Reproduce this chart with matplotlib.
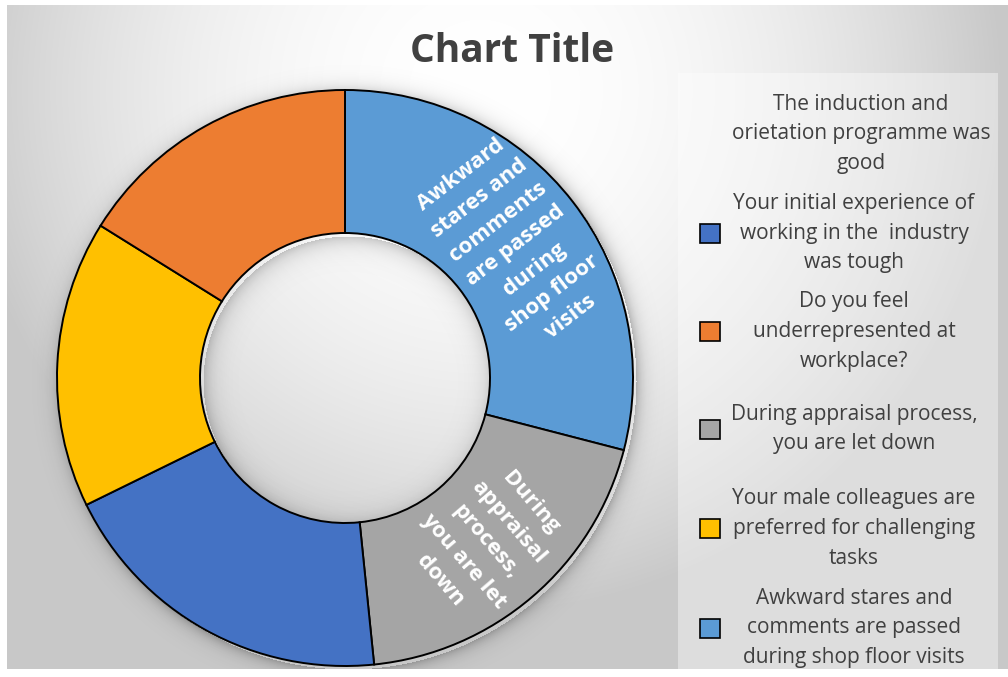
import numpy as np
import matplotlib
matplotlib.use("Agg")
import matplotlib.pyplot as plt
from matplotlib.patches import Rectangle

# ---------------- data ----------------
categories = [
    "The induction and\norietation programme was\ngood",
    "Your initial experience of\nworking in the  industry\nwas tough",
    "Do you feel\nunderrepresented at\nworkplace?",
    "During appraisal process,\nyou are let down",
    "Your male colleagues are\npreferred for challenging\ntasks",
    "Awkward stares and\ncomments are passed\nduring shop floor visits",
]
values = [0, 6, 5, 6, 5, 9]
colors = ["#FFFFFF", "#4472C4", "#ED7D31", "#A5A5A5", "#FFC000", "#5B9BD5"]
# clockwise drawing order starting at 12 o'clock
slice_order = [5, 3, 1, 4, 2]
labels_shown = {
    5: "Awkward\nstares and\ncomments\nare passed\nduring\nshop floor\nvisits",
    3: "During\nappraisal\nprocess,\nyou are let\ndown",
}
title = "Chart Title"

W, H = 1008, 677
fig = plt.figure(figsize=(W / 100, H / 100), dpi=100)
ax = fig.add_axes([0, 0, 1, 1])
ax.set_xlim(0, W)
ax.set_ylim(0, H)
ax.axis("off")

# background radial gradient (chart area)
yy, xx = np.mgrid[0:H, 0:W]
d2 = (xx - 480) ** 2 + (yy - 90) ** 2
g = np.clip(255 - 2.0e-4 * d2, 200, 255) / 255.0
bg = np.dstack([g, g, g])
ax.imshow(bg, extent=(0, W, 0, H), origin="upper", zorder=0, aspect="auto")

# soft shadow around the ring
cx_px, cy_px, R, R_in = 345, 378, 288, 145
rr_px = np.sqrt((xx - cx_px - 3) ** 2 + (yy - cy_px - 3) ** 2)
sh = np.zeros_like(rr_px)
out = rr_px > R
sh[out] = 0.24 * np.exp(-(rr_px[out] - R) / 7.0)
inn = rr_px < R_in
sh[inn] = 0.2 * np.exp(-(R_in - rr_px[inn]) / 9.0)
shadow = np.zeros((H, W, 4))
shadow[..., 3] = sh
ax.imshow(shadow, extent=(0, W, 0, H), origin="upper", zorder=0.5, aspect="auto")

# white margins around chart area
ax.add_patch(Rectangle((0, 0), 7, H, color="white", zorder=1, lw=0))
ax.add_patch(Rectangle((0, H - 5), W, 5, color="white", zorder=1, lw=0))
ax.add_patch(Rectangle((0, 0), W, H - 669, color="white", zorder=1, lw=0))
# legend area (slightly lighter)
ax.add_patch(Rectangle((678, H - 669), 320, 669 - 73, color="white", alpha=0.4, zorder=1, lw=0))

# donut
cx, cy = cx_px, H - cy_px
vals = [values[i] for i in slice_order]
cols = [colors[i] for i in slice_order]
wedges, _ = ax.pie(vals, colors=cols, startangle=90, counterclock=False,
                   center=(cx, cy), radius=R, frame=True,
                   wedgeprops=dict(width=R - R_in, edgecolor="black", linewidth=1.4))
for w in wedges:
    w.set_zorder(3)
ax.set_xlim(0, W)
ax.set_ylim(0, H)
ax.set_aspect("auto")
ax.axis("off")

# data labels
for w, idx in zip(wedges, slice_order):
    if idx in labels_shown:
        mid = np.deg2rad((w.theta1 + w.theta2) / 2)
        rr = 216
        x = cx + rr * np.cos(mid)
        y = cy + rr * np.sin(mid)
        rot = np.rad2deg(mid)
        if rot > 90:
            rot -= 180
        if rot < -90:
            rot += 180
        ax.text(x, y, labels_shown[idx], rotation=rot, rotation_mode="anchor",
                ha="center", va="center", multialignment="center",
                color="white", fontsize=16, fontweight="bold",
                family="Open Sans", linespacing=1.55, zorder=5)

# title
ax.text(512, H - 51, title, ha="center", va="center", fontsize=28,
        fontweight="bold", color="#404040", family="Open Sans", zorder=5)

# legend
centers_y = [134, 233, 331.5, 429, 528.5, 628]
for i, (lab, c, ycen) in enumerate(zip(categories, colors, centers_y)):
    tx = 861 if i == 0 else 854
    ax.text(tx, H - ycen, lab, ha="center", va="center", multialignment="center",
            fontsize=15, color="#404040", family="Open Sans", linespacing=1.55, zorder=5)
    if values[i] > 0:
        ax.add_patch(Rectangle((700, H - ycen - 9.5), 20, 19, facecolor=c,
                               edgecolor="black", linewidth=1.2, zorder=5))

fig.savefig("out.png", dpi=100)
